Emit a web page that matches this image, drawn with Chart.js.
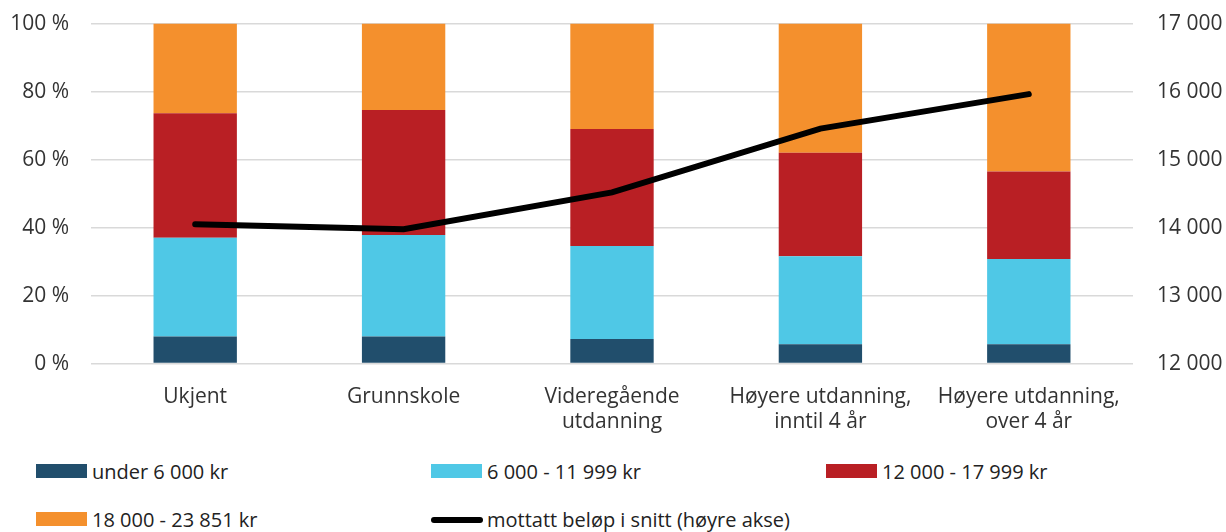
<!DOCTYPE html>
<html>
<head>
<meta charset="utf-8">
<script src="https://cdn.jsdelivr.net/npm/chart.js@4"></script>
<style>
  body { margin: 0; background: #fff; font-family: "Open Sans", sans-serif; overflow: hidden; }
  #wrap { position: relative; width: 1226px; height: 532px; overflow: hidden; }
  #box { position: absolute; left: 0; top: -13px; width: 1226px; height: 461px; }
  .leg { position: absolute; font-size: 20px; color: #222; white-space: nowrap; line-height: 24px; }
  .leg span.sw { position: absolute; left: 0; top: 4px; width: 51px; height: 14px; }
  .leg span.ln { position: absolute; left: 0; top: 9px; width: 52px; height: 6px; background: #000; border-radius: 3px; }
  .leg span.tx { margin-left: 56px; }
</style>
</head>
<body>
<div id="wrap">
  <div id="box"><canvas id="chart"></canvas></div>
  <div id="legend"></div>
</div>
<script>
let categories = ["Ukjent", "Grunnskole", ["Videregående", "utdanning"], ["Høyere utdanning,", "inntil 4 år"], ["Høyere utdanning,", "over 4 år"]];

let under6000 = [8.0, 8.0, 7.2, 5.7, 5.7];
let from6000 = [29.0, 29.8, 27.4, 25.9, 25.1];
let from12000 = [36.6, 36.8, 34.4, 30.4, 25.7];
let from18000 = [26.4, 25.4, 31.0, 38.0, 43.5];
let snitt = [14048, 13975, 14517, 15456, 15963];

let seriesNames = ["under 6 000 kr", "6 000 - 11 999 kr", "12 000 - 17 999 kr", "18 000 - 23 851 kr", "mottatt beløp i snitt (høyre akse)"];
let colors = ["#214e6c", "#4fc8e6", "#b91f24", "#f4902d", "#000000"];

function fmt(n) {
    return String(n).replace(/\B(?=(\d{3})+(?!\d))/g, " ");
}

let barSets = [under6000, from6000, from12000, from18000].map((d, i) => {
    return {
        type: "bar",
        label: seriesNames[i],
        data: d,
        backgroundColor: colors[i],
        borderWidth: 0,
        barPercentage: 0.8,
        categoryPercentage: 0.5,
        yAxisID: "y",
        order: 1
    };
});

let font = { family: "Open Sans", size: 21 };

new Chart(document.getElementById("chart"), {
    data: {
        labels: categories,
        datasets: barSets.concat([{
            type: "line",
            label: seriesNames[4],
            data: snitt,
            borderColor: "#000",
            borderWidth: 6,
            pointRadius: 0,
            tension: 0,
            borderCapStyle: "round",
            yAxisID: "y1",
            order: 0
        }])
    },
    options: {
        responsive: true,
        maintainAspectRatio: false,
        animation: false,
        layout: { padding: { top: 2, left: 0, right: 0, bottom: 0 } },
        plugins: { legend: { display: false }, tooltip: { enabled: false } },
        scales: {
            x: {
                stacked: true,
                grid: { display: false },
                border: { display: false },
                ticks: { color: "#333", font: font, padding: 13, maxRotation: 0 }
            },
            y: {
                stacked: true,
                position: "left",
                min: 0,
                max: 100,
                afterFit: s => { s.width = 91; },
                grid: { color: "#d9d9d9", lineWidth: 1.5, drawTicks: false },
                border: { display: false },
                ticks: { stepSize: 20, color: "#333", font: font, padding: 22, callback: v => v + " %" }
            },
            y1: {
                position: "right",
                min: 12000,
                max: 17000,
                afterFit: s => { s.width = 93; },
                grid: { display: false, drawTicks: false },
                border: { display: false },
                ticks: { stepSize: 1000, color: "#333", font: font, padding: 24, callback: v => fmt(v) }
            }
        }
    }
});

// legend laid out in a grid like the original
let legendPos = [[36, 460], [431, 460], [826, 460], [36, 508], [431, 508]];
let legend = document.getElementById("legend");
seriesNames.forEach((name, i) => {
    let div = document.createElement("div");
    div.className = "leg";
    div.style.left = legendPos[i][0] + "px";
    div.style.top = legendPos[i][1] + "px";
    let sw = document.createElement("span");
    if (i == 4) {
        sw.className = "ln";
    } else {
        sw.className = "sw";
        sw.style.background = colors[i];
    }
    let tx = document.createElement("span");
    tx.className = "tx";
    tx.innerText = name;
    div.appendChild(sw);
    div.appendChild(tx);
    legend.appendChild(div);
});
</script>
</body>
</html>
